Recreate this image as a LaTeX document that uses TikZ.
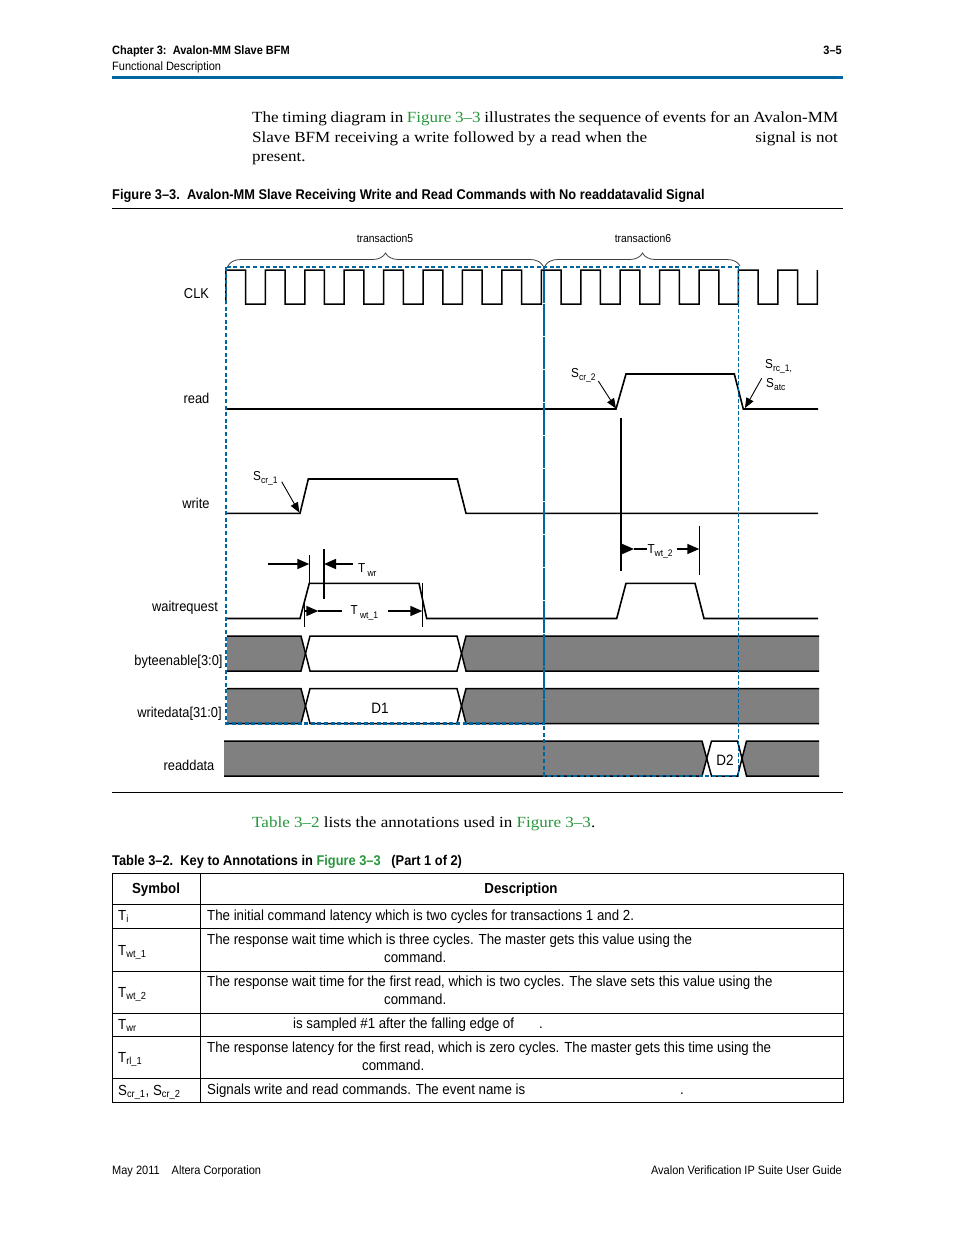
\documentclass[tikz,border=0pt]{standalone}
\usepackage{fontspec}
\setmainfont{Liberation Serif}
\newfontfamily\bodyfont[FakeStretch=1.1]{Liberation Serif}
\newfontfamily\diagfont[FakeStretch=0.9]{Liberation Sans}
\newfontfamily\condfont[FakeStretch=0.91]{Liberation Sans}
\usetikzlibrary{arrows.meta,decorations.pathreplacing}
\definecolor{alblue}{RGB}{0,102,160}
\definecolor{algreen}{RGB}{40,150,60}
\definecolor{busgray}{RGB}{128,128,128}
\newcommand\setfs[1]{\fontsize{#1pt}{#1pt}\selectfont}
\newcommand\sub[1]{\textsubscript{#1}}
\newcommand\dsub[1]{{\setfs{9.5}\raisebox{-3.5pt}{#1}}}
\begin{document}
\begin{tikzpicture}[x=1pt,y=-1pt,
  wave/.style={line width=1.6pt},
  clkline/.style={line width=1.5pt},
  busline/.style={line width=1.5pt},
  tick/.style={line width=0.9pt},
  meas/.style={line width=1.6pt},
  measarr/.style={line width=1.6pt,-{Triangle[length=12pt,width=10pt]}},
  callout/.style={line width=0.9pt,-{Triangle[length=10pt,width=8pt]}},
  tdash/.style={alblue,line width=2.2pt,dash pattern=on 4pt off 2.6pt},
  thindash/.style={alblue,line width=1pt,dash pattern=on 3.5pt off 2.5pt},
  bracestyle/.style={black!75,line width=0.8pt,decorate,decoration={brace,amplitude=13pt}},
  signame/.style={inner sep=0,anchor=base,font=\diagfont\setfs{14.3}},
  annot/.style={inner sep=0,anchor=base west,font=\diagfont\setfs{13}},
  body/.style={inner sep=0,anchor=base west,font=\bodyfont\setfs{15.5}},
  cell/.style={inner sep=0,anchor=base west,font=\condfont\setfs{14.6}},
  cellhead/.style={inner sep=0,anchor=base,font=\condfont\bfseries\setfs{14.6}},
  headtxt/.style={inner sep=0,anchor=base west,font=\condfont\setfs{12.1}},
  captxt/.style={inner sep=0,anchor=base west,font=\condfont\bfseries\setfs{14.1}},
  rule/.style={line width=0.8pt}
]
\useasboundingbox (0,0) rectangle (954,1235);
\fill[white] (0,0) rectangle (954,1235);

% ---------- page header ----------
\node[headtxt,font=\condfont\bfseries\setfs{12.1}] (hchap) at (112,54.5) {Chapter 3:\ \ Avalon-MM Slave BFM};
\node[headtxt,anchor=base east,font=\condfont\bfseries\setfs{12.1}] (hpage) at (842,54.5) {3–5};
\node[headtxt] (hsec) at (112,70.5) {Functional Description};
\draw[alblue,line width=2.5pt] (112,77.5) -- (843,77.5);

% ---------- body text ----------
\node[body] (p1) at (252,122) {\makebox[586pt][s]{The timing diagram in \textcolor{algreen}{Figure 3–3} illustrates the sequence of events for an Avalon-MM}};
\node[body] (p2a) at (252,142) {Slave BFM receiving a write followed by a read when the};
\node[body,anchor=base east] (p2b) at (838,142) {signal is not};
\node[body] (p3) at (252,161) {present.};

% ---------- figure caption ----------
\node[captxt] (figcap) at (112,199) {Figure 3–3.\ \ Avalon-MM Slave Receiving Write and Read Commands with No readdatavalid Signal};
\draw[rule] (112,208) -- (843,208);

% ---------- braces ----------
\draw[bracestyle] (228,266) -- (543,266);
\draw[bracestyle] (545,266) -- (740,266);
\node[signame,font=\diagfont\setfs{11.5}] (tr5) at (385,242) {transaction5};
\node[signame,font=\diagfont\setfs{11.5}] (tr6) at (643,242) {transaction6};

% ---------- signal names ----------
\node[signame] (nclk) at (196.5,298) {CLK};
\node[signame] (nread) at (196.5,403) {read};
\node[signame] (nwrite) at (196,508) {write};
\node[signame] (nwait) at (185,611) {waitrequest};
\node[signame] (nbe) at (178.5,665) {byteenable[3:0]};
\node[signame] (nwd) at (179.5,717) {writedata[31:0]};
\node[signame] (nrd) at (189,770) {readdata};

% ---------- clock ----------
\draw[clkline] (225.9,304)
  \foreach \j in {0,...,14} { -- ({225.9+39.43*\j},270) -- ({245.6+39.43*\j},270) -- ({245.6+39.43*\j},304) -- ({265.33+39.43*\j},304) }
  -- (817.35,270);

% ---------- read / write / waitrequest ----------
\draw[wave] (226,409) -- (616,409) -- (626,374) -- (734.3,374) -- (743.3,409) -- (818,409);
\draw[wave] (226,513.3) -- (300,513.3) -- (308.3,479) -- (457.3,479) -- (466,513.3) -- (818,513.3);
\draw[wave] (226,618.5) -- (300,618.5) -- (309.3,583.3) -- (419,583.3) -- (426.7,618.5) -- (616.7,618.5) -- (626,583.3) -- (695,583.3) -- (704,618.5) -- (818,618.5);

% ---------- buses ----------
% byteenable
\fill[busgray] (227,636) -- (301,636) -- (305.5,653.5) -- (301,671) -- (227,671) -- cycle;
\fill[busgray] (466,636) -- (819,636) -- (819,671) -- (466,671) -- (461.5,653.5) -- cycle;
\draw[busline] (227,636) -- (301,636) -- (310,671) -- (457,671) -- (466,636) -- (819,636);
\draw[busline] (227,671) -- (301,671) -- (310,636) -- (457,636) -- (466,671) -- (819,671);
% writedata
\fill[busgray] (227,688.5) -- (301,688.5) -- (305.5,706) -- (301,723.5) -- (227,723.5) -- cycle;
\fill[busgray] (466,688.5) -- (819,688.5) -- (819,723.5) -- (466,723.5) -- (461.5,706) -- cycle;
\draw[busline] (227,688.5) -- (301,688.5) -- (310,723.5) -- (457,723.5) -- (466,688.5) -- (819,688.5);
\draw[busline] (227,723.5) -- (301,723.5) -- (310,688.5) -- (457,688.5) -- (466,723.5) -- (819,723.5);
\node[signame,font=\diagfont\setfs{15}] (d1) at (380,713) {D1};
% readdata
\fill[busgray] (224,741) -- (702,741) -- (706.75,758.5) -- (702,776) -- (224,776) -- cycle;
\fill[busgray] (746.5,741) -- (819,741) -- (819,776) -- (746.5,776) -- (742,758.5) -- cycle;
\draw[busline] (224,741) -- (702,741) -- (711.5,776) -- (737.5,776) -- (746.5,741) -- (819,741);
\draw[busline] (224,776) -- (702,776) -- (711.5,741) -- (737.5,741) -- (746.5,776) -- (819,776);
\node[signame,font=\diagfont\setfs{15}] (d2) at (725,765) {D2};

% ---------- callouts ----------
\node[annot] (scr1) at (253,480) {S\dsub{cr\_1}};
\draw[callout] (281.7,481.7) -- (299.3,512.5);
\node[annot] (scr2) at (571,377) {S\dsub{cr\_2}};
\draw[callout] (598.3,381) -- (616,408.5);
\node[annot] (src1) at (765,368) {S\dsub{rc\_1,}};
\node[annot] (satc) at (766,387) {S\dsub{atc}};
\draw[callout] (761.7,378.3) -- (745,408);

% ---------- Twr ----------
\draw[tick] (309.3,555) -- (309.3,583.3);
\draw[line width=2pt] (324,549) -- (324,598.5);
\draw[measarr] (267.7,564) -- (309.3,564);
\draw[measarr] (352.7,564) -- (324,564);
\node[annot] (twr) at (358,572.5) {T\,\dsub{wr}};

% ---------- Twt_1 ----------
\draw[tick] (304.3,602) -- (304.3,627);
\draw[tick] (422.3,583) -- (422.3,627);
\draw[measarr] (304.3,611) -- (318.3,611);
\draw[meas] (318.3,611) -- (341.7,611);
\draw[measarr] (388,611) -- (422.3,611);
\node[annot] (twt1) at (350.5,614.5) {T\,\dsub{wt\_1}};

% ---------- Twt_2 ----------
\draw[line width=1.3pt] (621,418) -- (621,571);
\draw[tick] (699.3,526) -- (699.3,575);
\draw[measarr] (621,549) -- (634,549);
\draw[meas] (634,549) -- (646.7,549);
\draw[measarr] (677,549) -- (699.3,549);
\node[annot] (twt2) at (647.3,553) {T\dsub{wt\_2}};

% ---------- transaction boxes ----------
\draw[tdash] (226,267) rectangle (544,723.5);
\draw[tdash] (738.5,267) -- (544,267) -- (544,776) -- (738.5,776);
\draw[thindash] (738.5,267) -- (738.5,776);

% ---------- figure bottom rule ----------
\draw[rule] (112,792.5) -- (843,792.5);

\node[body] (p4) at (252,827) {\textcolor{algreen}{Table 3–2} lists the annotations used in \textcolor{algreen}{Figure 3–3}.};

% ---------- table ----------
\node[captxt] (tabcap) at (112,865) {Table 3–2.\ \ Key to Annotations in \textcolor{algreen}{Figure 3–3}\ \ \ (Part 1 of 2)};
\draw[rule] (112,873) rectangle (843,1102);
\draw[rule] (200,873) -- (200,1102);
\foreach \yy in {904,928.5,971,1013,1036,1078} { \draw[rule] (112,\yy) -- (843,\yy); }

\node[cellhead] (hsym) at (156,893) {Symbol};
\node[cellhead] (hdesc) at (521,893) {Description};

\node[cell] (s1) at (118,920) {T\sub{i}};
\node[cell] (d1a) at (207,920) {The initial command latency which is two cycles for transactions 1 and 2.};

\node[cell] (s2) at (118,955) {T\sub{wt\_1}};
\node[cell] (d2a) at (207,944) {The response wait time which is three cycles. The master gets this value using the};
\node[cell] (d2b) at (384,962) {command.};

\node[cell] (s3) at (118,997) {T\sub{wt\_2}};
\node[cell] (d3a) at (207,986) {The response wait time for the first read, which is two cycles. The slave sets this value using the};
\node[cell] (d3b) at (384,1004) {command.};

\node[cell] (s4) at (118,1029) {T\sub{wr}};
\node[cell] (d4a) at (293,1028) {is sampled \#1 after the falling edge of};
\node[cell] (d4b) at (539,1028) {.};

\node[cell] (s5) at (118,1062) {T\sub{rl\_1}};
\node[cell] (d5a) at (207,1052) {The response latency for the first read, which is zero cycles. The master gets this time using the};
\node[cell] (d5b) at (362,1070) {command.};

\node[cell] (s6) at (118,1095) {S\sub{cr\_1}, S\sub{cr\_2}};
\node[cell] (d6a) at (207,1094) {Signals write and read commands. The event name is};
\node[cell] (d6b) at (680,1094) {.};

% ---------- footer ----------
\node[headtxt] (fl) at (112,1174.5) {May 2011\hspace{12pt}Altera Corporation};
\node[headtxt,anchor=base east] (fr) at (842,1174.5) {Avalon Verification IP Suite User Guide};
\end{tikzpicture}
\end{document}
